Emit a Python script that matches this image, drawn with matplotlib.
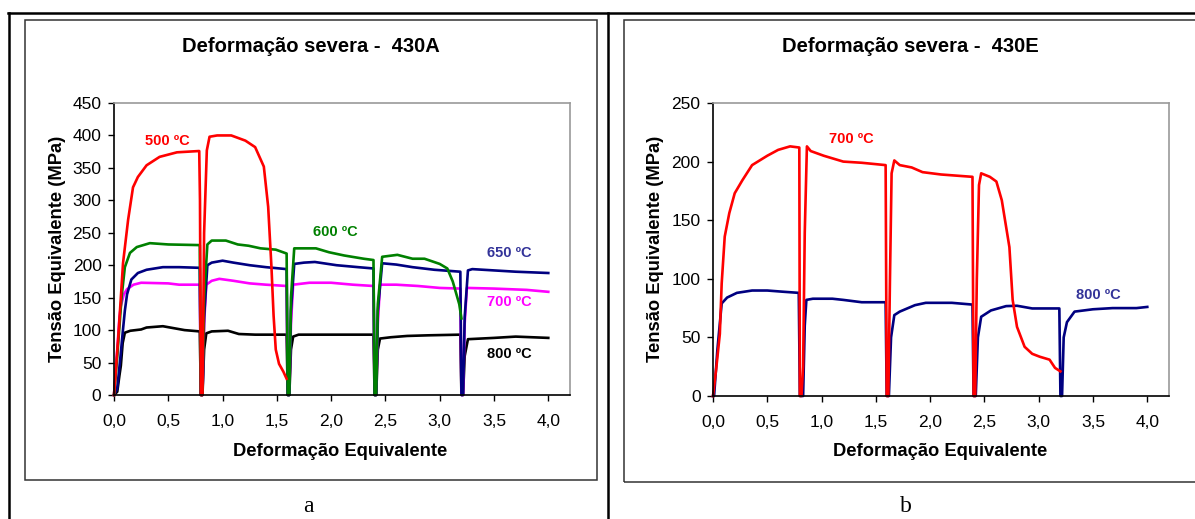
import matplotlib
matplotlib.use("Agg")
import matplotlib.pyplot as plt
from matplotlib.patches import Rectangle
from matplotlib.lines import Line2D
from matplotlib.ticker import FixedLocator, FixedFormatter

plt.rcParams['font.family'] = ['Liberation Sans', 'DejaVu Sans']

# ---------------- data ----------------
titles = ["Deformação severa -  430A", "Deformação severa -  430E"]
xlabel = "Deformação Equivalente"
ylabel = "Tensão Equivalente (MPa)"
panel_letters = ["a", "b"]

xticks = [0.0, 0.5, 1.0, 1.5, 2.0, 2.5, 3.0, 3.5, 4.0]
xtick_labels = ["0,0", "0,5", "1,0", "1,5", "2,0", "2,5", "3,0", "3,5", "4,0"]
yticks_a = [0, 50, 100, 150, 200, 250, 300, 350, 400, 450]
yticks_b = [0, 50, 100, 150, 200, 250]

# 430A, 500 ºC
a500_x = [0.0, 0.04, 0.083, 0.13, 0.175, 0.22, 0.30, 0.42, 0.58, 0.785, 0.792, 0.80,
          0.815, 0.83, 0.855, 0.88, 0.95, 1.08, 1.21, 1.30, 1.38, 1.42, 1.45, 1.47, 1.49, 1.52, 1.56, 1.59]
a500_y = [0, 90, 203, 270, 320, 336, 354, 367, 374, 376, 300, 0,
          0, 250, 377, 398, 400, 400, 392, 382, 352, 290, 198, 122, 70, 48, 36, 25]

# 430A, 600 ºC
a600_x = [0.0, 0.03, 0.07, 0.10, 0.147, 0.21, 0.33, 0.5, 0.79, 0.80,
          0.815, 0.83, 0.86, 0.9, 1.03, 1.14, 1.24, 1.35, 1.49, 1.59, 1.60,
          1.615, 1.63, 1.66, 1.86, 1.98, 2.12, 2.30, 2.39, 2.40,
          2.415, 2.43, 2.47, 2.61, 2.75, 2.86, 3.0, 3.07, 3.12, 3.18, 3.2]
a600_y = [0, 60, 151, 197, 219, 228, 234, 232, 231, 0,
          0, 150, 232, 238, 238, 232, 230, 226, 224, 218, 0,
          0, 150, 226, 226, 220, 215, 210, 208, 0,
          0, 140, 213, 216, 210, 210, 202, 195, 175, 140, 118]

# 430A, 650 ºC
a650_x = [0.0, 0.03, 0.06, 0.08, 0.10, 0.12, 0.16, 0.22, 0.30, 0.45, 0.6, 0.79, 0.80,
          0.815, 0.83, 0.86, 0.9, 1.0, 1.1, 1.25, 1.4, 1.59, 1.60,
          1.615, 1.63, 1.66, 1.75, 1.85, 2.05, 2.25, 2.39, 2.40,
          2.415, 2.43, 2.47, 2.6, 2.75, 2.95, 3.19, 3.20,
          3.215, 3.23, 3.26, 3.3, 3.5, 3.7, 4.0]
a650_y = [0, 10, 60, 96, 130, 155, 178, 188, 193, 197, 197, 196, 0,
          0, 120, 200, 204, 207, 204, 200, 197, 194, 0,
          0, 130, 202, 204, 205, 200, 197, 195, 0,
          0, 130, 203, 201, 197, 193, 190, 0,
          0, 120, 192, 194, 192, 190, 188]

# 430A, 700 ºC
a700_x = [0.0, 0.02, 0.03, 0.05, 0.063, 0.09, 0.12, 0.18, 0.25, 0.5, 0.6, 0.79, 0.80,
          0.815, 0.83, 0.85, 0.9, 0.97, 1.1, 1.25, 1.4, 1.59, 1.60,
          1.615, 1.63, 1.65, 1.8, 2.0, 2.2, 2.39, 2.40,
          2.415, 2.43, 2.45, 2.6, 2.8, 3.0, 3.19, 3.20,
          3.215, 3.23, 3.25, 3.5, 3.8, 4.0]
a700_y = [0, 50, 70, 120, 137, 155, 163, 170, 173, 172, 170, 170, 0,
          0, 110, 170, 176, 179, 176, 172, 170, 168, 0,
          0, 110, 170, 173, 173, 170, 168, 0,
          0, 110, 170, 170, 168, 165, 164, 0,
          0, 110, 165, 164, 162, 159]

# 430A, 800 ºC
a800_x = [0.0, 0.03, 0.05, 0.063, 0.08, 0.10, 0.15, 0.25, 0.30, 0.45, 0.55, 0.65, 0.79, 0.80,
          0.815, 0.83, 0.85, 0.9, 1.05, 1.15, 1.3, 1.59, 1.60,
          1.615, 1.63, 1.65, 1.7, 2.0, 2.39, 2.40,
          2.415, 2.43, 2.45, 2.55, 2.7, 2.9, 3.19, 3.20,
          3.215, 3.23, 3.26, 3.5, 3.7, 4.0]
a800_y = [0, 5, 30, 45, 80, 96, 99, 101, 104, 106, 103, 100, 98, 0,
          0, 70, 95, 98, 99, 94, 93, 93, 0,
          0, 70, 90, 93, 93, 93, 0,
          0, 70, 87, 89, 91, 92, 93, 0,
          0, 60, 86, 88, 90, 88]

# 430E, 700 ºC
b700_x = [0.0, 0.028, 0.063, 0.08, 0.108, 0.15, 0.2, 0.27, 0.36, 0.5, 0.6, 0.71, 0.795, 0.80,
          0.815, 0.83, 0.845, 0.865, 0.9, 1.02, 1.2, 1.37, 1.59, 1.60,
          1.615, 1.63, 1.645, 1.67, 1.72, 1.83, 1.93, 2.1, 2.39, 2.40,
          2.415, 2.43, 2.45, 2.47, 2.55, 2.61, 2.66, 2.73, 2.76, 2.8, 2.87, 2.94, 3.01, 3.1, 3.15, 3.2]
b700_y = [0, 22, 53, 96, 136, 156, 173, 184, 197, 205, 210, 213, 212, 0,
          0, 25, 139, 213, 209, 205, 200, 199, 197, 0,
          0, 100, 190, 201, 197, 195, 191, 189, 187, 0,
          0, 100, 180, 190, 187, 183, 167, 127, 82, 59, 42, 36, 33.5, 31, 24, 21]

# 430E, 800 ºC
b800_x = [0.0, 0.01, 0.04, 0.08, 0.13, 0.22, 0.36, 0.5, 0.64, 0.79, 0.80,
          0.83, 0.845, 0.86, 0.92, 1.1, 1.2, 1.37, 1.59, 1.60,
          1.62, 1.64, 1.67, 1.72, 1.86, 1.96, 2.2, 2.39, 2.40,
          2.42, 2.44, 2.47, 2.56, 2.7, 2.8, 2.94, 3.19, 3.20,
          3.215, 3.23, 3.26, 3.33, 3.5, 3.68, 3.9, 4.0]
b800_y = [0, 0, 39, 79, 84, 88, 90, 90, 89, 88, 0,
          0, 60, 82, 83, 83, 82, 80, 80, 0,
          0, 50, 69, 72, 77.5, 79.5, 79.5, 78, 0,
          0, 50, 67.6, 73, 76.7, 77, 74.7, 74.7, 0,
          0, 50, 63, 72, 74, 75, 75, 76]

# ---------------- figure ----------------
W, H = 1195, 519
fig = plt.figure(figsize=(W / 100, H / 100), dpi=100)
fig.patch.set_facecolor("white")


def fx(px):
    return px / W


def fy(py):
    return 1 - py / H


RED = "#FF0000"
GREEN = "#008000"
NAVY = "#000080"
MAG = "#FF00FF"
LABBLUE = "#333399"
LW = 1.9

# table lines
fig.add_artist(Line2D([fx(8), fx(1195)], [fy(13), fy(13)], color="black", lw=1.8))
fig.add_artist(Line2D([fx(9), fx(9)], [fy(13), fy(519)], color="black", lw=1.8))
fig.add_artist(Line2D([fx(608), fx(608)], [fy(13), fy(519)], color="black", lw=1.8))

# chart boxes
for (x0, y0, x1, y1) in [(24.5, 20, 597, 480), (624, 20, 1200, 482)]:
    fig.add_artist(Rectangle((fx(x0), fy(y1)), fx(x1) - fx(x0), fy(y0) - fy(y1),
                             fill=False, edgecolor="#333333", lw=1.1))

axes_px = [(114, 103, 570, 395), (713, 103, 1169, 396)]
axs = []
for (x0, y0, x1, y1) in axes_px:
    ax = fig.add_axes([fx(x0), fy(y1), fx(x1) - fx(x0), fy(y0) - fy(y1)])
    axs.append(ax)

ax_a, ax_b = axs

ax_a.plot(a800_x, a800_y, color="black", lw=LW)
ax_a.plot(a700_x, a700_y, color=MAG, lw=LW)
ax_a.plot(a650_x, a650_y, color=NAVY, lw=LW)
ax_a.plot(a600_x, a600_y, color=GREEN, lw=LW)
ax_a.plot(a500_x, a500_y, color=RED, lw=LW)

ax_b.plot(b800_x, b800_y, color=NAVY, lw=LW)
ax_b.plot(b700_x, b700_y, color=RED, lw=LW)

lab_kw = dict(fontsize=10.5, fontweight="bold", ha="center", va="center")
ax_a.text(0.49, 391, "500 ºC", color=RED, **lab_kw)
ax_a.text(2.04, 251, "600 ºC", color=GREEN, **lab_kw)
ax_a.text(3.64, 219, "650 ºC", color=LABBLUE, **lab_kw)
ax_a.text(3.64, 143, "700 ºC", color=MAG, **lab_kw)
ax_a.text(3.64, 63, "800 ºC", color="black", **lab_kw)
ax_b.text(1.27, 219, "700 ºC", color=RED, **lab_kw)
ax_b.text(3.55, 86, "800 ºC", color=LABBLUE, **lab_kw)

for ax, yt in [(ax_a, yticks_a), (ax_b, yticks_b)]:
    ax.set_xlim(0, 4.2)
    ax.set_ylim(0, yt[-1])
    ax.xaxis.set_major_locator(FixedLocator(xticks))
    ax.xaxis.set_major_formatter(FixedFormatter(xtick_labels))
    ax.yaxis.set_major_locator(FixedLocator(yt))
    ax.yaxis.set_major_formatter(FixedFormatter([str(v) for v in yt]))
    ax.tick_params(axis="both", direction="out", length=4, width=1, color="black",
                   labelsize=12.5, labelcolor="black")
    ax.tick_params(axis="x", pad=10)
    ax.tick_params(axis="y", pad=5)
    ax.spines["left"].set_color("black")
    ax.spines["bottom"].set_color("black")
    ax.spines["top"].set_color("#9a9a9a")
    ax.spines["right"].set_color("#9a9a9a")
    for s in ax.spines.values():
        s.set_linewidth(1.2)
    ax.set_facecolor("white")
    for ln in ax.lines:
        ln.set_clip_on(False)

# titles, axis labels, letters
fig.text(fx(311), fy(47), titles[0], fontsize=14.5, fontweight="bold", ha="center", va="center")
fig.text(fx(910), fy(47), titles[1], fontsize=14.5, fontweight="bold", ha="center", va="center")
fig.text(fx(340), fy(451), xlabel, fontsize=13.2, fontweight="bold", ha="center", va="center")
fig.text(fx(940), fy(452), xlabel, fontsize=13.2, fontweight="bold", ha="center", va="center")
fig.text(fx(57), fy(249), ylabel, fontsize=13.2, fontweight="bold", ha="center", va="center", rotation=90)
fig.text(fx(656), fy(249), ylabel, fontsize=13.2, fontweight="bold", ha="center", va="center", rotation=90)
fig.text(fx(308), fy(506), panel_letters[0], fontsize=17, ha="center", va="center",
         family=["Liberation Serif", "DejaVu Serif"])
fig.text(fx(906), fy(506), panel_letters[1], fontsize=17, ha="center", va="center",
         family=["Liberation Serif", "DejaVu Serif"])

fig.savefig("out.png", dpi=100, facecolor="white")
